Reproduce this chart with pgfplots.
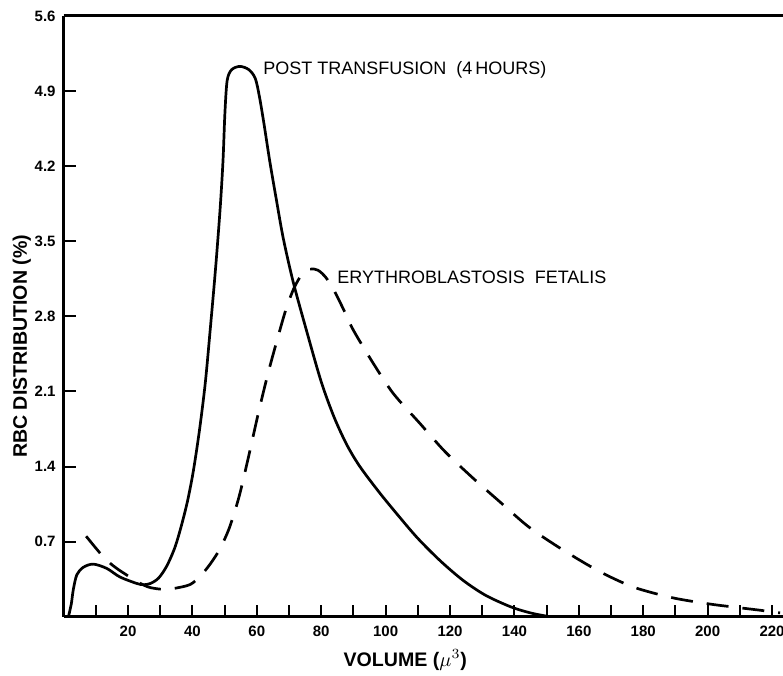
\documentclass[border=0pt]{standalone}
\usepackage{pgfplots}
\pgfplotsset{compat=1.18}
\usepackage{fontspec}
\setmainfont{Liberation Sans}

\begin{document}
\begin{tikzpicture}
  \begin{axis}[
      scale only axis,
      width=359.7pt,
      height=300.35pt,
      xmin=0, xmax=223.4,
      ymin=0, ymax=5.6,
      axis x line*=box,
      axis y line*=left,
      axis line style={line width=1.5pt},
      tick align=inside,
      xtick pos=left,
      ytick pos=left,
      xtick={20,40,...,220},
      minor xtick={10,30,...,210},
      ytick={0.7,1.4,2.1,2.8,3.5,4.2,4.9,5.6},
      yticklabels={0.7,1.4,2.1,2.8,3.5,4.2,4.9,5.6},
      major tick length=6pt,
      minor tick length=6pt,
      tick style={line width=1pt, black},
      /pgf/number format/assume math mode=true,
      tick label style={font=\fontsize{7.5}{8}\selectfont\bfseries},
      xticklabel style={yshift=-1pt},
      yticklabel style={xshift=-0.5pt},
      xlabel={VOLUME ($\mu^{3}$)},
      ylabel={RBC DISTRIBUTION (\%)},
      label style={font=\fontsize{9.8}{11}\selectfont\bfseries},
      xlabel style={at={(axis description cs:0.475,-0.072)}, anchor=center},
      ylabel style={at={(axis description cs:-0.058,0.45)}, anchor=center},
      clip=false,
    ]
    % post transfusion (4 hours)
    \addplot[black, line width=1.35pt, smooth] coordinates {
      (1.5,0) (2.4,0.12) (3.0,0.25) (4.1,0.39) (6.1,0.46) (9.2,0.49)
      (13.4,0.45) (17.5,0.37) (22.7,0.31) (24.8,0.298) (27.0,0.31)
      (29.5,0.36) (32.0,0.47) (34.5,0.64) (36.5,0.84) (38.5,1.08)
      (40.3,1.36) (42.2,1.74) (44.0,2.18) (45.6,2.70) (47.2,3.25)
      (48.6,3.80) (49.5,4.25) (50.1,4.70) (50.8,5.00) (52.2,5.10)
      (54.8,5.13) (57.5,5.10) (59.5,5.02) (60.8,4.85) (62.2,4.60)
      (64.0,4.25) (66.0,3.90) (68.2,3.53) (71.3,3.12) (75.5,2.66)
      (80.0,2.19) (84.0,1.86) (88.0,1.60) (92.0,1.40) (98.0,1.16)
      (104.0,0.94) (110.0,0.73) (117.0,0.52) (124.0,0.34) (131.0,0.20)
      (139.0,0.09) (145.0,0.035) (150.0,0.005)
    };
    % erythroblastosis fetalis
    \addplot[black, line width=1.35pt, smooth, dash pattern=on 11pt off 7pt] coordinates {
      (7.0,0.75) (10,0.64) (12.9,0.54) (16.5,0.45) (22.7,0.33) (26,0.28)
      (28,0.265) (31.0,0.255) (34.6,0.265) (39.3,0.30) (42.5,0.38)
      (45.5,0.49) (48.5,0.63) (51.5,0.83) (54.5,1.12) (57.5,1.50)
      (60.5,1.90) (63.5,2.27) (66.5,2.60) (69.0,2.86) (71.5,3.06)
      (74.0,3.19) (76.5,3.24) (79.0,3.23) (81.5,3.16) (84.0,3.04)
      (87.0,2.86) (90.0,2.67) (96.2,2.36) (102.4,2.08) (110.7,1.80)
      (118.4,1.54) (127.2,1.29) (135.5,1.07) (144.3,0.84) (153.6,0.65)
      (163.5,0.47) (170.5,0.36) (178,0.265) (189.3,0.175) (200.2,0.12)
      (208,0.09) (216.3,0.06) (222.5,0.035)
    };
    \node[anchor=west, font=\fontsize{9}{10}\selectfont, inner sep=0pt] at (axis cs:61.9,5.10) {POST TRANSFUSION\ \ (4\,HOURS)};
    \node[anchor=west, font=\fontsize{9}{10}\selectfont, inner sep=0pt] at (axis cs:84.9,3.165) {ERYTHROBLASTOSIS\ \ FETALIS};
    \coordinate (bl) at (rel axis cs:0,0);
    \coordinate (tr) at (rel axis cs:1,1);
  \end{axis}
  \pgfresetboundingbox
  \path ([xshift=-31.8pt,yshift=-29.65pt]bl) rectangle ([yshift=8pt]tr);
\end{tikzpicture}
\end{document}
